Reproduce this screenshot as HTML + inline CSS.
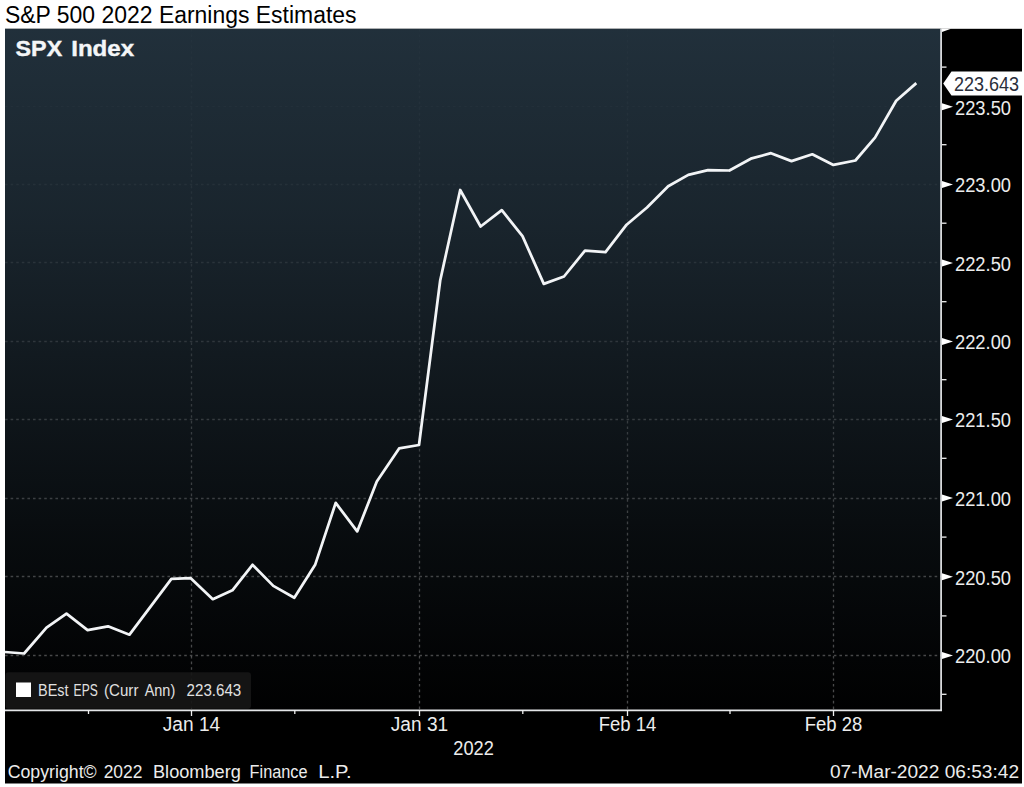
<!DOCTYPE html>
<html><head><meta charset="utf-8"><title>S&amp;P 500 2022 Earnings Estimates</title>
<style>
html,body{margin:0;padding:0;background:#fff;}
body{width:1024px;height:787px;overflow:hidden;position:relative;font-family:"Liberation Sans",sans-serif;}
svg{position:absolute;left:0;top:0;display:block;}
text{font-family:"Liberation Sans",sans-serif;}
</style></head><body>
<svg width="1024" height="787" viewBox="0 0 1024 787">
<defs>
<linearGradient id="bg" x1="0" y1="0" x2="0" y2="1">
<stop offset="0" stop-color="#243440" stop-opacity="0.92"/>
<stop offset="0.274" stop-color="#243440" stop-opacity="0.71"/>
<stop offset="0.516" stop-color="#243440" stop-opacity="0.46"/>
<stop offset="0.743" stop-color="#243440" stop-opacity="0.23"/>
<stop offset="1" stop-color="#243440" stop-opacity="0.015"/>
</linearGradient>
<linearGradient id="gg" gradientUnits="userSpaceOnUse" x1="0" y1="28" x2="0" y2="710">
<stop offset="0.000" stop-color="#fff" stop-opacity="0.012"/>
<stop offset="0.116" stop-color="#fff" stop-opacity="0.024"/>
<stop offset="0.230" stop-color="#fff" stop-opacity="0.047"/>
<stop offset="0.345" stop-color="#fff" stop-opacity="0.082"/>
<stop offset="0.459" stop-color="#fff" stop-opacity="0.122"/>
<stop offset="0.575" stop-color="#fff" stop-opacity="0.165"/>
<stop offset="0.689" stop-color="#fff" stop-opacity="0.204"/>
<stop offset="0.805" stop-color="#fff" stop-opacity="0.243"/>
<stop offset="0.919" stop-color="#fff" stop-opacity="0.275"/>
<stop offset="1.000" stop-color="#fff" stop-opacity="0.290"/>
</linearGradient>
</defs>
<rect x="0" y="0" width="1024" height="787" fill="#ffffff"/>
<text x="5" y="22.6" font-size="23" fill="#000" textLength="351.5" lengthAdjust="spacingAndGlyphs">S&amp;P 500 2022 Earnings Estimates</text>
<rect x="5" y="28.8" width="1017" height="754.7" fill="#000"/>

<rect x="5" y="28.8" width="936" height="681.7" fill="url(#bg)"/>
<line x1="5" x2="941" y1="106.5" y2="106.5" stroke="#ffffff" stroke-opacity="0.023" stroke-width="1.3" stroke-dasharray="2.6,3"/>
<line x1="5" x2="941" y1="184.5" y2="184.5" stroke="#ffffff" stroke-opacity="0.047" stroke-width="1.3" stroke-dasharray="2.6,3"/>
<line x1="5" x2="941" y1="262.5" y2="262.5" stroke="#ffffff" stroke-opacity="0.082" stroke-width="1.3" stroke-dasharray="2.6,3"/>
<line x1="5" x2="941" y1="341.5" y2="341.5" stroke="#ffffff" stroke-opacity="0.122" stroke-width="1.3" stroke-dasharray="2.6,3"/>
<line x1="5" x2="941" y1="419.5" y2="419.5" stroke="#ffffff" stroke-opacity="0.164" stroke-width="1.3" stroke-dasharray="2.6,3"/>
<line x1="5" x2="941" y1="498.5" y2="498.5" stroke="#ffffff" stroke-opacity="0.204" stroke-width="1.3" stroke-dasharray="2.6,3"/>
<line x1="5" x2="941" y1="576.5" y2="576.5" stroke="#ffffff" stroke-opacity="0.243" stroke-width="1.3" stroke-dasharray="2.6,3"/>
<line x1="5" x2="941" y1="655.5" y2="655.5" stroke="#ffffff" stroke-opacity="0.275" stroke-width="1.3" stroke-dasharray="2.6,3"/>
<line x1="191.5" x2="191.5" y1="28.8" y2="710" stroke="url(#gg)" stroke-width="1.3" stroke-dasharray="2.6,3"/>
<line x1="419.5" x2="419.5" y1="28.8" y2="710" stroke="url(#gg)" stroke-width="1.3" stroke-dasharray="2.6,3"/>
<line x1="627.5" x2="627.5" y1="28.8" y2="710" stroke="url(#gg)" stroke-width="1.3" stroke-dasharray="2.6,3"/>
<line x1="833.5" x2="833.5" y1="28.8" y2="710" stroke="url(#gg)" stroke-width="1.3" stroke-dasharray="2.6,3"/>
<rect x="5.5" y="672.3" width="245.5" height="36.5" rx="3" fill="#161616" fill-opacity="0.92"/>
<rect x="16" y="682.5" width="15" height="14.5" fill="#fff"/>
<text x="38.1" y="696.3" font-size="16" fill="#e0e0e0" textLength="30.5" lengthAdjust="spacingAndGlyphs" >BEst</text>
<text x="73.6" y="696.3" font-size="16" fill="#e0e0e0" textLength="24.1" lengthAdjust="spacingAndGlyphs" >EPS</text>
<text x="104.1" y="696.3" font-size="16" fill="#e0e0e0" textLength="34.3" lengthAdjust="spacingAndGlyphs" >(Curr</text>
<text x="144.7" y="696.3" font-size="16" fill="#e0e0e0" textLength="30.5" lengthAdjust="spacingAndGlyphs" >Ann)</text>
<text x="186.6" y="696.3" font-size="16" fill="#e0e0e0" textLength="54.6" lengthAdjust="spacingAndGlyphs" >223.643</text>
<line x1="5" x2="942" y1="710.3" y2="710.3" stroke="#e4e6e8" stroke-width="1.7"/>
<line x1="941.1" x2="941.1" y1="28.8" y2="711" stroke="#e4e6e8" stroke-width="1.7"/>
<path d="M942,103.3 L953,106.8 L942,110.3 Z" fill="#fff"/>
<text x="955" y="114.6" font-size="20" fill="#ececec" textLength="56" lengthAdjust="spacingAndGlyphs">223.50</text>
<line x1="942" x2="946.5" y1="67.1" y2="67.1" stroke="#f0f0f0" stroke-width="1.3"/>
<path d="M942,180.9 L953,184.4 L942,187.9 Z" fill="#fff"/>
<text x="955" y="192.2" font-size="20" fill="#ececec" textLength="56" lengthAdjust="spacingAndGlyphs">223.00</text>
<line x1="942" x2="946.5" y1="144.7" y2="144.7" stroke="#f0f0f0" stroke-width="1.3"/>
<path d="M942,259.4 L953,262.9 L942,266.4 Z" fill="#fff"/>
<text x="955" y="270.7" font-size="20" fill="#ececec" textLength="56" lengthAdjust="spacingAndGlyphs">222.50</text>
<line x1="942" x2="946.5" y1="223.2" y2="223.2" stroke="#f0f0f0" stroke-width="1.3"/>
<path d="M942,337.9 L953,341.4 L942,344.9 Z" fill="#fff"/>
<text x="955" y="349.2" font-size="20" fill="#ececec" textLength="56" lengthAdjust="spacingAndGlyphs">222.00</text>
<line x1="942" x2="946.5" y1="301.7" y2="301.7" stroke="#f0f0f0" stroke-width="1.3"/>
<path d="M942,415.9 L953,419.4 L942,422.9 Z" fill="#fff"/>
<text x="955" y="427.2" font-size="20" fill="#ececec" textLength="56" lengthAdjust="spacingAndGlyphs">221.50</text>
<line x1="942" x2="946.5" y1="379.7" y2="379.7" stroke="#f0f0f0" stroke-width="1.3"/>
<path d="M942,494.5 L953,498.0 L942,501.5 Z" fill="#fff"/>
<text x="955" y="505.8" font-size="20" fill="#ececec" textLength="56" lengthAdjust="spacingAndGlyphs">221.00</text>
<line x1="942" x2="946.5" y1="458.3" y2="458.3" stroke="#f0f0f0" stroke-width="1.3"/>
<path d="M942,573.3 L953,576.8 L942,580.3 Z" fill="#fff"/>
<text x="955" y="584.6" font-size="20" fill="#ececec" textLength="56" lengthAdjust="spacingAndGlyphs">220.50</text>
<line x1="942" x2="946.5" y1="537.1" y2="537.1" stroke="#f0f0f0" stroke-width="1.3"/>
<path d="M942,652.1 L953,655.6 L942,659.1 Z" fill="#fff"/>
<text x="955" y="663.4" font-size="20" fill="#ececec" textLength="56" lengthAdjust="spacingAndGlyphs">220.00</text>
<line x1="942" x2="946.5" y1="615.9" y2="615.9" stroke="#f0f0f0" stroke-width="1.3"/>
<line x1="942" x2="946.5" y1="694.3" y2="694.3" stroke="#f0f0f0" stroke-width="1.3"/>
<line x1="191.5" x2="191.5" y1="710" y2="716" stroke="#f0f0f0" stroke-width="1.3"/>
<text x="162.7" y="731.4" font-size="19.5" fill="#ececec" textLength="57.5" lengthAdjust="spacingAndGlyphs">Jan 14</text>
<line x1="419.5" x2="419.5" y1="710" y2="716" stroke="#f0f0f0" stroke-width="1.3"/>
<text x="390.7" y="731.4" font-size="19.5" fill="#ececec" textLength="57.5" lengthAdjust="spacingAndGlyphs">Jan 31</text>
<line x1="627.5" x2="627.5" y1="710" y2="716" stroke="#f0f0f0" stroke-width="1.3"/>
<text x="598.7" y="731.4" font-size="19.5" fill="#ececec" textLength="57.5" lengthAdjust="spacingAndGlyphs">Feb 14</text>
<line x1="833.5" x2="833.5" y1="710" y2="716" stroke="#f0f0f0" stroke-width="1.3"/>
<text x="804.7" y="731.4" font-size="19.5" fill="#ececec" textLength="57.5" lengthAdjust="spacingAndGlyphs">Feb 28</text>
<line x1="88.5" x2="88.5" y1="710" y2="714" stroke="#f0f0f0" stroke-width="1.3"/>
<line x1="294.8" x2="294.8" y1="710" y2="714" stroke="#f0f0f0" stroke-width="1.3"/>
<line x1="522.8" x2="522.8" y1="710" y2="714" stroke="#f0f0f0" stroke-width="1.3"/>
<line x1="730" x2="730" y1="710" y2="714" stroke="#f0f0f0" stroke-width="1.3"/>
<text x="453.3" y="755" font-size="19.5" fill="#ececec" textLength="40.5" lengthAdjust="spacingAndGlyphs">2022</text>
<text x="15.6" y="55.8" font-size="22.6" fill="#f4f6f8" textLength="46.6" lengthAdjust="spacingAndGlyphs" font-weight="bold" stroke="#f4f6f8" stroke-width="0.4">SPX</text>
<text x="71.2" y="55.8" font-size="22.6" fill="#f4f6f8" textLength="63.0" lengthAdjust="spacingAndGlyphs" font-weight="bold" stroke="#f4f6f8" stroke-width="0.4">Index</text>
<path d="M5.0,652.0 L24.1,653.5 L46.5,627.6 L66.5,613.6 L87.6,630.1 L108.0,626.3 L129.5,634.7 L171.4,578.9 L190.5,578.1 L212.8,599.2 L232.4,590.3 L252.5,564.8 L273.3,585.9 L294.3,597.7 L315.3,564.4 L335.7,502.9 L357.2,531.4 L376.8,481.6 L399.1,448.4 L419.0,445.0 L440.2,280.5 L460.2,190.0 L480.6,226.5 L501.8,210.2 L522.5,236.1 L543.8,283.9 L564.0,276.5 L585.0,250.6 L605.5,252.2 L626.6,224.7 L647.0,207.5 L668.2,186.2 L688.3,174.9 L708.0,170.2 L729.4,170.5 L750.8,158.7 L771.0,153.2 L791.5,161.1 L812.3,154.3 L833.4,164.9 L855.4,160.5 L875.0,137.6 L896.2,100.8 L916.3,83.1" fill="none" stroke="#f2f4f6" stroke-width="2.75" stroke-linejoin="round" stroke-linecap="butt"/>
<path d="M942,28.8 L951,28.8 L942,32 Z" fill="#fff"/>
<path d="M943.2,83.5 L951.5,71.5 L1022,71.5 L1022,95.5 L951.5,95.5 Z" fill="#fff"/>
<text x="954" y="91.3" font-size="20" fill="#2a2f3a" textLength="65" lengthAdjust="spacingAndGlyphs">223.643</text>
<text x="7.7" y="777.8" font-size="17.5" fill="#ececec" textLength="89.0" lengthAdjust="spacingAndGlyphs" >Copyright©</text>
<text x="103.7" y="777.8" font-size="17.5" fill="#ececec" textLength="38.7" lengthAdjust="spacingAndGlyphs" >2022</text>
<text x="153.0" y="777.8" font-size="17.5" fill="#ececec" textLength="87.9" lengthAdjust="spacingAndGlyphs" >Bloomberg</text>
<text x="249.6" y="777.8" font-size="17.5" fill="#ececec" textLength="58.0" lengthAdjust="spacingAndGlyphs" >Finance</text>
<text x="318.2" y="777.8" font-size="17.5" fill="#ececec" textLength="33.4" lengthAdjust="spacingAndGlyphs" >L.P.</text>
<text x="830" y="777.8" font-size="17.5" fill="#ececec" textLength="189" lengthAdjust="spacingAndGlyphs">07-Mar-2022 06:53:42</text>
</svg></body></html>
